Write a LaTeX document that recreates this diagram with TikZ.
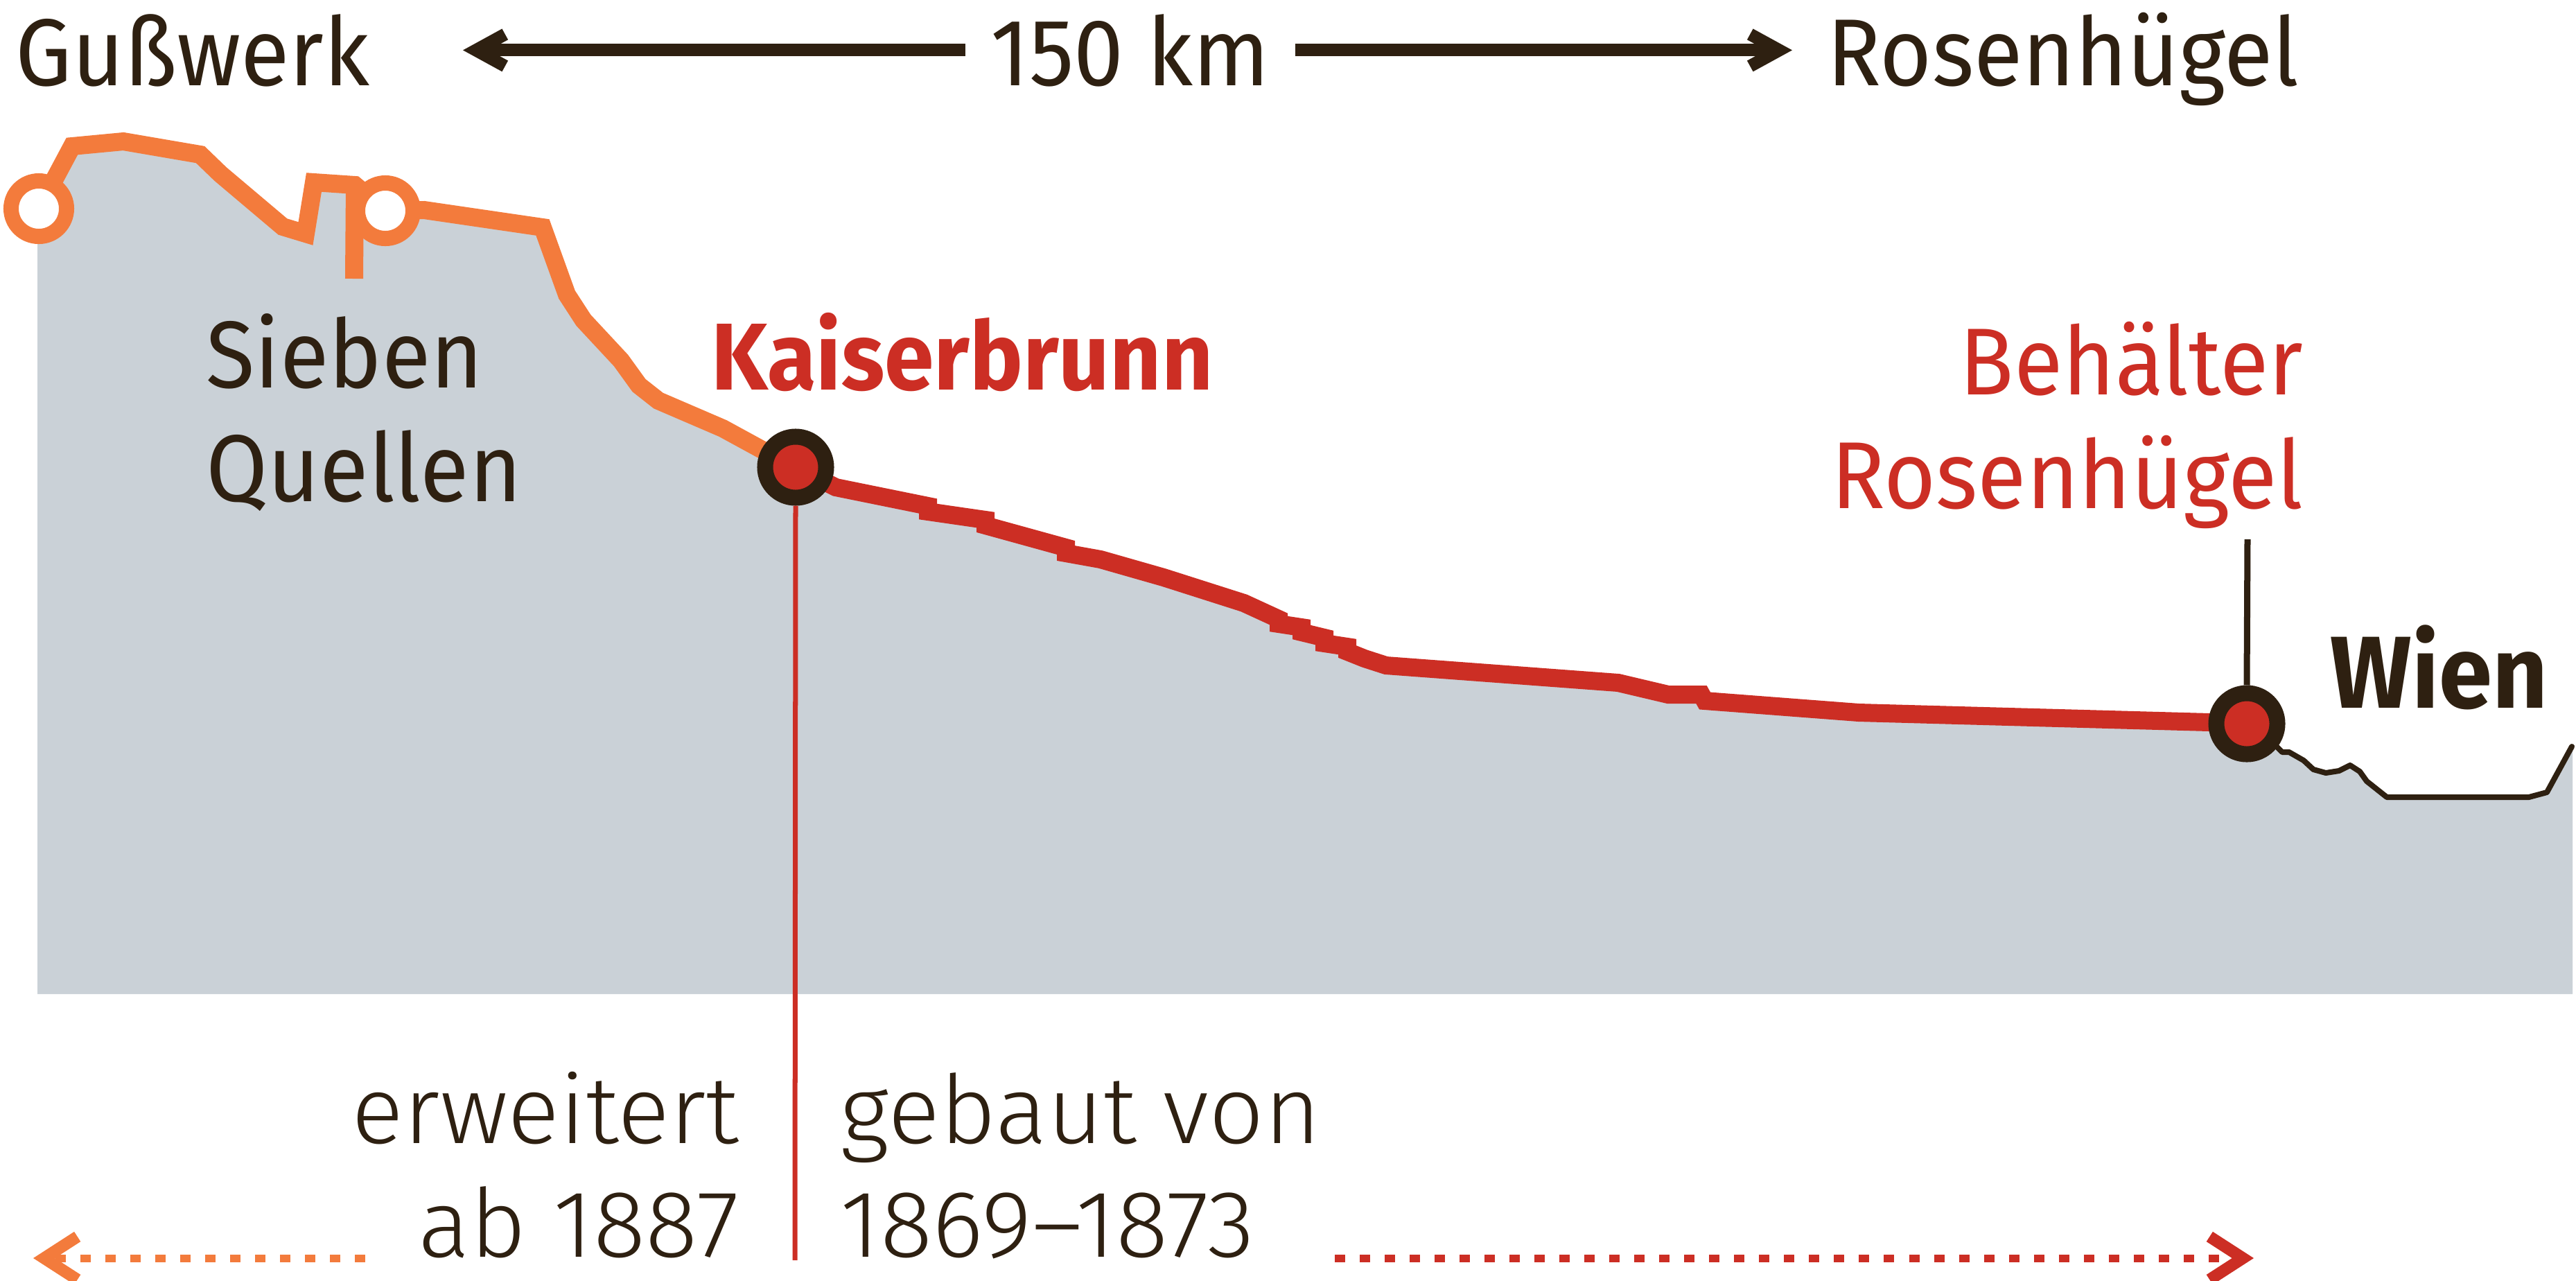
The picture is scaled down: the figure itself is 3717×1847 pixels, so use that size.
\documentclass[tikz,border=0pt]{standalone}
\usepackage{fontspec}
\setmainfont{Fira Sans}[FakeStretch=0.94]
\IfFontExistsTF{Fira Sans Light}
  {\newfontfamily\thinfont{Fira Sans Light}[FakeStretch=1.02]}
  {\newfontfamily\thinfont{Fira Sans}[FakeStretch=1.02]}
\usepackage{tikz}
\usetikzlibrary{arrows.meta,positioning}
\definecolor{wInk}{HTML}{2E2011}
\definecolor{wOrange}{HTML}{F37B3C}
\definecolor{wRed}{HTML}{CC2E24}
\definecolor{wGray}{HTML}{CAD1D7}
\newcommand\bigsz{\fontsize{39}{46.5}\selectfont}
\tikzset{
  % labels
  lbl/.style={inner sep=0pt,font=\bigsz,text=wInk},
  redlbl/.style={lbl,text=wRed},
  thinlbl/.style={lbl,font=\bigsz\thinfont},
  % profile lines
  oline/.style={draw=wOrange,line width=0.26cm},
  rline/.style={draw=wRed,line width=0.26cm},
  kline/.style={draw=wInk,line width=0.08cm,line cap=round,line join=round},
  % stations
  quelle/.style={circle,draw=wOrange,fill=white,line width=0.22cm,
    minimum size=0.8cm,inner sep=0pt},
  werk/.style={circle,draw=wInk,fill=wRed,line width=0.23cm,
    minimum size=0.88cm,inner sep=0pt},
  % arrows
  kmarr/.style={-{Straight Barb[sharp,length=0.42cm,width=0.46cm]},
    draw=wInk,line width=0.18cm},
  dotarr/.style={-{Straight Barb[sharp,length=0.48cm,width=0.62cm,line width=0.17cm]},
    line width=0.11cm,dash pattern=on 0.15cm off 0.21cm},
}
\begin{document}
\begin{tikzpicture}[x=0.01cm,y=-0.01cm]
  \useasboundingbox (0,0) rectangle (3717,1847);

  % terrain
  \fill[wGray] (56,301) -- (104,211) -- (178,204) -- (289,223) -- (318,251)
    -- (408,327) -- (441,337) -- (453,263) -- (512,267) -- (556,304)
    -- (612,303) -- (783,328) -- (818,425) -- (842,462) -- (896,520)
    -- (922,556) -- (950,578) -- (1043,618) -- (1098,648) -- (1148,674)
    -- (1206,703) -- (1339,730) -- (1339,738) -- (1422,750) -- (1422,758)
    -- (1538,790) -- (1538,798) -- (1588,807) -- (1679,833) -- (1795,870)
    -- (1845,893) -- (1845,900) -- (1878,905) -- (1878,912) -- (1911,920)
    -- (1911,928) -- (1944,933) -- (1944,940) -- (1969,950) -- (2000,960)
    -- (2335,985) -- (2407,1002) -- (2455,1002) -- (2460,1011) -- (2682,1028)
    -- (3188,1042) -- (3242,1044) -- (3285,1077) -- (3293,1085) -- (3303,1085)
    -- (3324,1097) -- (3338,1110) -- (3356,1115) -- (3375,1112) -- (3391,1104)
    -- (3405,1113) -- (3415,1127) -- (3444,1150) -- (3649,1150) -- (3675,1143)
    -- (3712,1080) -- (3712,1434) -- (54,1434) -- (54,301) -- cycle;

  % older part (orange)
  \draw[oline] (56,301) -- (104,211) -- (178,204) -- (289,223) -- (318,251)
    -- (408,327) -- (441,337) -- (453,263) -- (512,267) -- (556,304)
    -- (612,303) -- (783,328) -- (818,425) -- (842,462) -- (896,520)
    -- (922,556) -- (950,578) -- (1043,618) -- (1098,648) -- (1148,674);
  \draw[oline] (512,267) -- (511,402);

  % main line (red)
  \draw[rline] (1148,674) -- (1206,703) -- (1339,730) -- (1339,738)
    -- (1422,750) -- (1422,758) -- (1538,790) -- (1538,798) -- (1588,807)
    -- (1679,833) -- (1795,870) -- (1845,893) -- (1845,900) -- (1878,905)
    -- (1878,912) -- (1911,920) -- (1911,928) -- (1944,933) -- (1944,940)
    -- (1969,950) -- (2000,960) -- (2335,985) -- (2407,1002) -- (2455,1002)
    -- (2460,1011) -- (2682,1028) -- (3188,1042) -- (3242,1044);

  % Wien
  \draw[kline] (3242,1044) -- (3285,1077) -- (3293,1085) -- (3303,1085)
    -- (3324,1097) -- (3338,1110) -- (3356,1115) -- (3375,1112) -- (3391,1104)
    -- (3405,1113) -- (3415,1127) -- (3444,1150) -- (3649,1150) -- (3675,1143)
    -- (3711,1077);

  % stations
  \node[quelle] (gw) at (56,301) {};
  \node[quelle] (sq) at (556,304) {};
  \node[werk] (kb) at (1148,674) {};
  \node[werk] (rh) at (3242,1044) {};

  \coordinate (kbEnd) at (1147,1818);
  \coordinate (rhTop) at (3243,778);
  \draw[wRed,line width=0.07cm] (kb.south) -- (kbEnd);
  \draw[wInk,line width=0.09cm] (rh.north) -- (rhTop);

  % top line
  \node[lbl,anchor=base west] (gusswerk) at (22,123) {Gußwerk};
  \node[lbl,anchor=base,inner xsep=0.36cm] (km) at (1631,123) {150 km};
  \node[lbl,anchor=base west] (ziel) at (2636,123) {Rosenhügel};
  \coordinate (tipL) at (668,74);
  \coordinate (tipR) at (2586,74);
  \draw[kmarr] (km.west) -- (km.west -| tipL);
  \draw[kmarr] (km.east) -- (km.east -| tipR);

  % labels
  \node[lbl,anchor=base west,align=left] (quellen) at (297,723) {Sieben\\Quellen};
  \node[redlbl,font=\bigsz\bfseries,anchor=base west] (kaiser) at (1026,562) {Kaiserbrunn};
  \node[redlbl,anchor=base east,align=right] (behaelter) at (3324,733) {Behälter\\Rosenhügel};
  \node[lbl,font=\fontsize{42}{46.5}\selectfont\bfseries,anchor=base west] (wien) at (3362,1021) {Wien};

  % bottom
  \node[thinlbl,anchor=base east,align=right] (erweitert) at (1067,1813) {erweitert\\ab 1887};
  \node[thinlbl,anchor=base west,align=left] (gebaut) at (1212,1813) {gebaut von\\1869–1873};

  \coordinate (oStart) at (527,1815);
  \coordinate (oTip) at (48,1815);
  \coordinate (rStart) at (1926,1815);
  \coordinate (rTip) at (3252,1815);
  \draw[dotarr,wOrange] (oStart) -- (oTip);
  \draw[dotarr,wRed] (rStart) -- (rTip);
\end{tikzpicture}
\end{document}
